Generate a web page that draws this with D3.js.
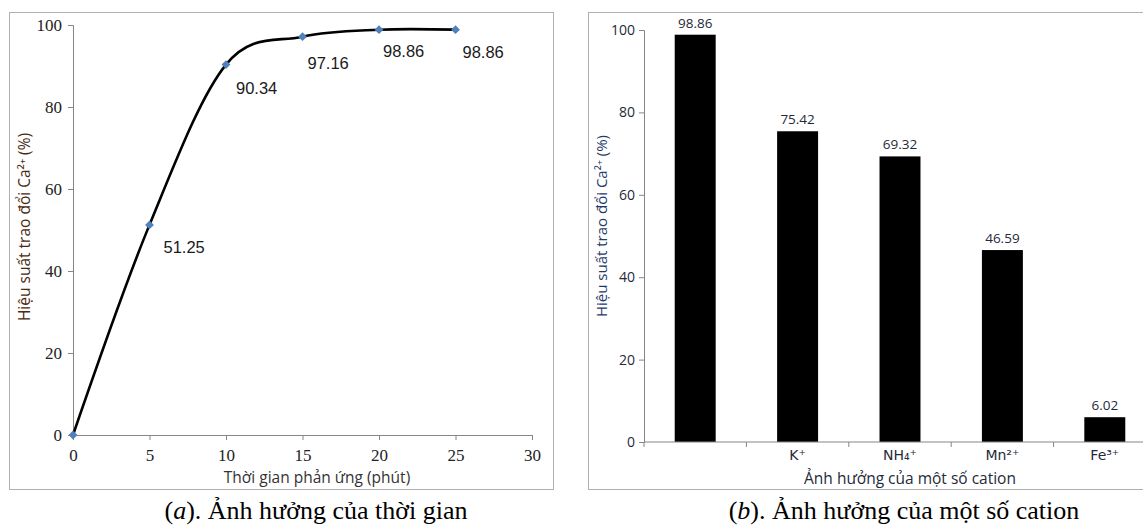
<!DOCTYPE html>
<html><head><meta charset="utf-8">
<script src="https://cdn.jsdelivr.net/npm/d3@7"></script>
<style>body{margin:0;background:#fff}svg{display:block}</style>
</head><body>
<svg id="c" width="1143" height="527"></svg>
<script>
// ---- data ----
const times = [0, 5, 10, 15, 20, 25];
const timeValues = [0, 51.25, 90.34, 97.16, 98.86, 98.86];
const timeTicks = [0, 5, 10, 15, 20, 25, 30];
const yTicks = [0, 20, 40, 60, 80, 100];
const cations = ["", "K⁺", "NH₄⁺", "Mn²⁺", "Fe³⁺"];
const cationValues = [98.86, 75.42, 69.32, 46.59, 6.02];
const yTitle = "Hiệu suất trao đổi Ca²⁺ (%)";

const svg = d3.select("#c");
const axisColor = "#868686";

// ---- panel (a) ----
svg.append("rect").attr("x", 9.5).attr("y", 12.5).attr("width", 544).attr("height", 477)
  .attr("fill", "none").attr("stroke", "#b0b0b0");
const xA = d3.scaleLinear().domain([0, 30]).range([73, 532]);
const yA = d3.scaleLinear().domain([0, 100]).range([435, 25]);

const gAx = svg.append("g").attr("transform", "translate(0,435)")
  .call(d3.axisBottom(xA).tickValues(timeTicks).tickSizeOuter(0).tickSize(5).tickPadding(9));
gAx.selectAll("text").attr("font-family", "Liberation Serif, serif").attr("font-size", 17).attr("fill", "#222");
const gAy = svg.append("g").attr("transform", "translate(73,0)")
  .call(d3.axisLeft(yA).tickValues(yTicks).tickSizeOuter(0).tickSize(5).tickPadding(6));
gAy.selectAll("text").attr("font-family", "Liberation Serif, serif").attr("font-size", 17).attr("fill", "#222");
[gAx, gAy].forEach(g => { g.selectAll("path,line").attr("stroke", axisColor); });

const ptsA = times.map((t, i) => [t, timeValues[i]]);
svg.append("path").datum(ptsA)
  .attr("d", d3.line().x(d => xA(d[0])).y(d => yA(d[1])).curve(d3.curveCatmullRom.alpha(0)))
  .attr("fill", "none").attr("stroke", "#000").attr("stroke-width", 2.6);
svg.selectAll(".mk").data(ptsA).join("path")
  .attr("transform", d => `translate(${xA(d[0])},${yA(d[1])})`)
  .attr("d", d3.symbol().type(d3.symbolDiamond2).size(50))
  .attr("fill", "#4f81bd");
const labelNudge = [null, [14, 28], [10, 29], [5, 32], [4, 27], [7, 28]];
svg.selectAll(".lbA").data(ptsA.slice(1)).join("text")
  .attr("x", (d, i) => xA(d[0]) + labelNudge[i + 1][0])
  .attr("y", (d, i) => yA(d[1]) + labelNudge[i + 1][1])
  .attr("font-family", "Liberation Sans, sans-serif").attr("font-size", 16.5).attr("fill", "#1a1a1a")
  .text(d => d[1].toFixed(2));

svg.append("text").attr("x", 317).attr("y", 483).attr("text-anchor", "middle")
  .attr("font-family", "Open Sans, sans-serif").attr("font-size", 15.5).attr("fill", "#333")
  .text("Thời gian phản ứng (phút)");
svg.append("text").attr("transform", "translate(30,227) rotate(-90)").attr("text-anchor", "middle")
  .attr("font-family", "Open Sans, sans-serif").attr("font-size", 15.5).attr("fill", "#4a2a10")
  .text(yTitle);

// ---- panel (b) ----
svg.append("rect").attr("x", 588.5).attr("y", 12.5).attr("width", 600).attr("height", 477)
  .attr("fill", "none").attr("stroke", "#b0b0b0");
const xB = d3.scaleBand().domain(d3.range(cations.length)).range([644, 1156]).paddingInner(0.6).paddingOuter(0.3);
const yB = d3.scaleLinear().domain([0, 100]).range([442, 30]);

const gBy = svg.append("g").attr("transform", "translate(644,0)")
  .call(d3.axisLeft(yB).tickValues(yTicks).tickSizeOuter(0).tickSize(5).tickPadding(4));
gBy.selectAll("text").attr("font-family", "Open Sans, sans-serif").attr("font-size", 14).attr("fill", "#1f2a3a");
gBy.selectAll("path,line").attr("stroke", axisColor);

svg.selectAll(".bar").data(cationValues).join("rect")
  .attr("x", (d, i) => xB(i)).attr("width", xB.bandwidth())
  .attr("y", d => yB(d)).attr("height", d => yB(0) - yB(d))
  .attr("fill", "#000");

const gBx = svg.append("g").attr("transform", "translate(0,442)");
gBx.append("line").attr("x1", 644).attr("x2", 1156).attr("stroke", axisColor);
const step = xB.step();
const boundaries = d3.range(cations.length + 1).map(k => xB.range()[0] + k * step);
gBx.selectAll(".tk").data(boundaries).join("line")
  .attr("x1", d => d).attr("x2", d => d).attr("y1", 0).attr("y2", 5).attr("stroke", axisColor);
gBx.selectAll(".cl").data(cations).join("text")
  .attr("x", (d, i) => xB(i) + xB.bandwidth() / 2).attr("y", 18).attr("text-anchor", "middle")
  .attr("font-family", "DejaVu Sans, sans-serif").attr("font-size", 14).attr("fill", "#1f2a3a")
  .text(d => d);

svg.selectAll(".vl").data(cationValues).join("text")
  .attr("x", (d, i) => xB(i) + xB.bandwidth() / 2).attr("y", d => yB(d) - 7).attr("text-anchor", "middle")
  .attr("font-family", "Open Sans, sans-serif").attr("font-size", 13.5).attr("fill", "#1f2a3a")
  .text(d => d.toFixed(2));

svg.append("text").attr("x", 910).attr("y", 484).attr("text-anchor", "middle")
  .attr("font-family", "Open Sans, sans-serif").attr("font-size", 15.5).attr("fill", "#1f2a3a")
  .text("Ảnh hưởng của một số cation");
svg.append("text").attr("transform", "translate(607,226) rotate(-90)").attr("text-anchor", "middle")
  .attr("font-family", "Open Sans, sans-serif").attr("font-size", 15).attr("fill", "#1f3a6a")
  .text(yTitle);

// ---- captions ----
function caption(x, letter, rest) {
  const t = svg.append("text").attr("x", x).attr("y", 519).attr("text-anchor", "middle")
    .attr("font-family", "Liberation Serif, serif").attr("font-size", 26).attr("fill", "#000");
  t.append("tspan").text("(");
  t.append("tspan").attr("font-style", "italic").text(letter);
  t.append("tspan").text(")" + rest);
}
caption(316, "a", ". Ảnh hưởng của thời gian");
caption(904, "b", ". Ảnh hưởng của một số cation");
</script>
</body></html>
